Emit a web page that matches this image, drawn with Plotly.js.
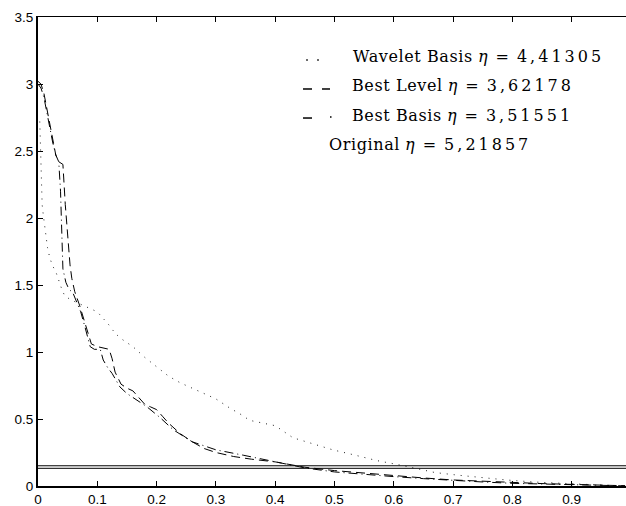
<!DOCTYPE html>
<html>
<head>
<meta charset="utf-8">
<script src="https://cdn.plot.ly/plotly-3.0.1.min.js"></script>
<style>html,body{margin:0;padding:0;background:#fff;}#chart{width:626px;height:506px;}</style>
</head>
<body>
<div id="chart"></div>
<script>
// Wavelet Basis (dotted)
const waveletX = [0.003, 0.004, 0.005, 0.006, 0.007, 0.009, 0.011, 0.013, 0.016, 0.02, 0.025, 0.03, 0.035, 0.04, 0.045, 0.055, 0.065, 0.075, 0.085, 0.095, 0.1, 0.11, 0.12, 0.13, 0.14, 0.15, 0.16, 0.18, 0.2, 0.22, 0.24, 0.26, 0.285, 0.3, 0.324, 0.34, 0.357, 0.38, 0.4, 0.43, 0.46, 0.497, 0.535, 0.571, 0.61, 0.64, 0.67, 0.71, 0.75, 0.79, 0.835, 0.88, 0.92, 0.96, 0.99];
const waveletY = [2.72, 2.55, 2.35, 2.2, 2.1, 2.02, 1.95, 1.87, 1.78, 1.70, 1.64, 1.60, 1.53, 1.47, 1.42, 1.39, 1.37, 1.35, 1.33, 1.31, 1.30, 1.25, 1.20, 1.14, 1.10, 1.07, 1.04, 0.96, 0.89, 0.82, 0.77, 0.73, 0.68, 0.65, 0.58, 0.54, 0.49, 0.47, 0.45, 0.36, 0.32, 0.27, 0.23, 0.19, 0.157, 0.13, 0.10, 0.08, 0.06, 0.045, 0.03, 0.02, 0.01, 0.005, 0.002];

// Best Level (dashed)
const levelX = [0, 0.005, 0.01, 0.015, 0.02, 0.025, 0.03, 0.035, 0.042, 0.046, 0.05, 0.054, 0.057, 0.062, 0.07, 0.08, 0.09, 0.1, 0.11, 0.12, 0.125, 0.13, 0.14, 0.15, 0.16, 0.17, 0.18, 0.19, 0.2, 0.21, 0.22, 0.24, 0.26, 0.28, 0.3, 0.33, 0.36, 0.4, 0.45, 0.5, 0.55, 0.6, 0.65, 0.7, 0.75, 0.8, 0.85, 0.9, 0.95, 0.99];
const levelY = [3.02, 3.0, 2.93, 2.82, 2.7, 2.58, 2.47, 2.42, 2.40, 2.1, 1.85, 1.65, 1.55, 1.45, 1.35, 1.2, 1.06, 1.04, 1.03, 1.02, 0.95, 0.85, 0.76, 0.73, 0.71, 0.66, 0.61, 0.59, 0.57, 0.52, 0.47, 0.39, 0.33, 0.28, 0.25, 0.22, 0.2, 0.18, 0.14, 0.115, 0.095, 0.08, 0.06, 0.045, 0.035, 0.025, 0.018, 0.012, 0.006, 0.002];

// Best Basis (dash-dot)
const basisX = [0, 0.005, 0.01, 0.015, 0.02, 0.025, 0.03, 0.035, 0.038, 0.042, 0.047, 0.052, 0.059, 0.065, 0.072, 0.079, 0.088, 0.095, 0.105, 0.11, 0.118, 0.125, 0.138, 0.15, 0.167, 0.184, 0.206, 0.228, 0.26, 0.3, 0.346, 0.4, 0.45, 0.5, 0.55, 0.6, 0.65, 0.7, 0.75, 0.8, 0.85, 0.9, 0.95, 0.99];
const basisY = [3.0, 2.97, 2.9, 2.78, 2.66, 2.56, 2.47, 2.42, 2.2, 1.62, 1.52, 1.47, 1.44, 1.38, 1.3, 1.19, 1.04, 1.02, 1.02, 0.94, 0.88, 0.84, 0.74, 0.69, 0.64, 0.59, 0.51, 0.42, 0.33, 0.27, 0.23, 0.18, 0.135, 0.105, 0.085, 0.07, 0.055, 0.04, 0.03, 0.02, 0.014, 0.009, 0.004, 0.001];

// Original (two horizontal levels)
const originalX = [0, 0.9916];
const originalLevels = [0.151, 0.132];

const xTicks = [0, 0.1, 0.2, 0.3, 0.4, 0.5, 0.6, 0.7, 0.8, 0.9];
const xTickText = ['0', '0.1', '0.2', '0.3', '0.4', '0.5', '0.6', '0.7', '0.8', '0.9'];
const yTicks = [0, 0.5, 1, 1.5, 2, 2.5, 3, 3.5];
const yTickText = ['0', '0.5', '1', '1.5', '2', '2.5', '3', '3.5'];

const legendNames = ['Wavelet Basis', 'Best Level', 'Best Basis', 'Original'];
const legendEta = ['4,41305', '3,62178', '3,51551', '5,21857'];

const black = '#000';
const traces = [
  {x: waveletX, y: waveletY, mode: 'lines', line: {color: '#222', width: 1, dash: '1px,6px'}, hoverinfo: 'skip'},
  {x: levelX, y: levelY, mode: 'lines', line: {color: black, width: 1, dash: '9px,5px'}, hoverinfo: 'skip'},
  {x: basisX, y: basisY, mode: 'lines', line: {color: black, width: 1, dash: '9px,4px,1px,4px'}, hoverinfo: 'skip'}
];
originalLevels.forEach(v => {
  traces.push({x: originalX, y: originalX.map(() => v), mode: 'lines', line: {color: black, width: 1}, hoverinfo: 'skip'});
});
traces.push({x: [], y: [], xaxis: 'x2', mode: 'lines', hoverinfo: 'skip'});

const serif = {family: 'DejaVu Serif, Liberation Serif, serif', size: 16, color: black};
const annX = [0.532, 0.531, 0.531, 0.491];
const annY = [0.9167, 0.8538, 0.7909, 0.728];
const annotations = legendNames.map((n, i) => ({
  xref: 'paper', yref: 'paper', x: annX[i], y: annY[i], xanchor: 'left', yanchor: 'middle', showarrow: false, font: serif,
  text: '<span style="letter-spacing:0.6px">' + n + '</span> <i>\u03b7</i>\u2002=\u2002<span style="letter-spacing:3px">' + legendEta[i] + '</span>'
}));

// legend sample marks (paper coordinates)
const sw = {color: black, width: 1.5};
const shapes = [
  {type: 'line', xref: 'paper', yref: 'paper', x0: 0.4562, x1: 0.4588, y0: 0.9083, y1: 0.9083, line: sw},
  {type: 'line', xref: 'paper', yref: 'paper', x0: 0.4749, x1: 0.4775, y0: 0.9083, y1: 0.9083, line: sw},
  {type: 'line', xref: 'paper', yref: 'paper', x0: 0.4507, x1: 0.4660, y0: 0.8465, y1: 0.8465, line: sw},
  {type: 'line', xref: 'paper', yref: 'paper', x0: 0.4830, x1: 0.4966, y0: 0.8465, y1: 0.8465, line: sw},
  {type: 'line', xref: 'paper', yref: 'paper', x0: 0.4507, x1: 0.4660, y0: 0.7846, y1: 0.7846, line: sw},
  {type: 'line', xref: 'paper', yref: 'paper', x0: 0.4966, x1: 0.4992, y0: 0.7868, y1: 0.7868, line: sw}
];

const tickFont = {family: 'Liberation Sans, Arial, sans-serif', size: 13.5, color: black};
const layout = {
  width: 626, height: 506,
  margin: {l: 38, r: 0, t: 17, b: 20, pad: 0},
  paper_bgcolor: '#fff', plot_bgcolor: '#fff',
  showlegend: false,
  xaxis: {range: [0, 0.9916], tickvals: xTicks, ticktext: xTickText, ticks: 'inside', ticklen: 5, tickcolor: black,
          showline: true, linecolor: black, linewidth: 2, showgrid: false, zeroline: false, tickfont: tickFont, ticklabelstandoff: 0},
  xaxis2: {range: [0, 0.9916], overlaying: 'x', side: 'top', tickvals: xTicks, ticks: 'inside', ticklen: 5, tickcolor: black,
           showline: true, linecolor: black, linewidth: 1, showgrid: false, zeroline: false, showticklabels: false},
  yaxis: {range: [0, 3.5], tickvals: yTicks, ticktext: yTickText, ticks: 'inside', ticklen: 5, tickcolor: black,
          showline: true, linecolor: black, linewidth: 2, showgrid: false, zeroline: false, tickfont: tickFont},
  annotations: annotations,
  shapes: shapes
};
Plotly.newPlot('chart', traces, layout, {displayModeBar: false, staticPlot: true});
</script>
</body>
</html>
